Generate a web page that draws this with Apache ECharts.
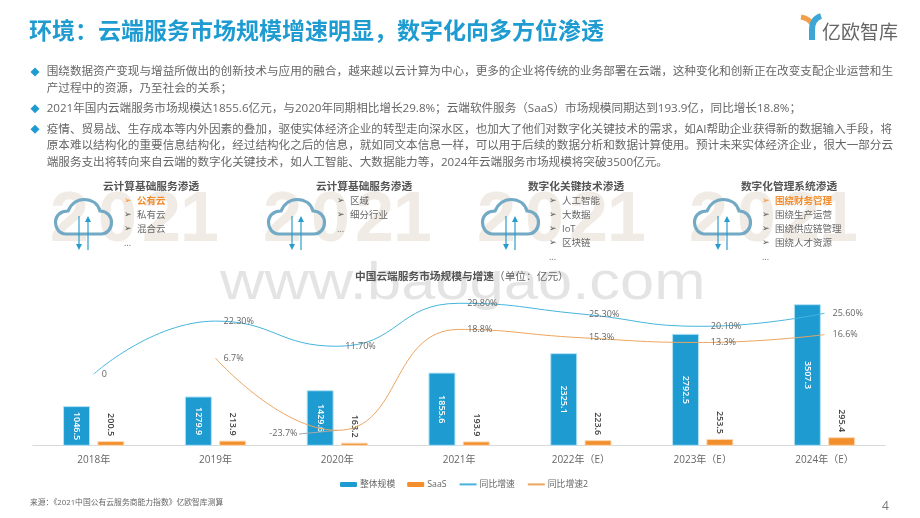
<!DOCTYPE html>
<html>
<head>
<meta charset="utf-8">
<style>
  html, body { margin: 0; padding: 0; background: #fff; }
  #main { width: 920px; height: 518px; }
</style>
</head>
<body>
<div id="main"></div>
<script src="https://cdn.jsdelivr.net/npm/echarts@6/dist/echarts.min.js"></script>
<script>
// chart data
var categories = ['2018年', '2019年', '2020年', '2021年', '2022年（E）', '2023年（E）', '2024年（E）'];
var totalSize = [1046.5, 1279.9, 1429.6, 1855.6, 2325.1, 2792.5, 3507.3];
var saasSize = [200.5, 213.9, 163.2, 193.9, 223.6, 253.5, 295.4];
var totalGrowth = [0, 22.3, 11.7, 29.8, 25.3, 20.1, 25.6];
var saasGrowth = [null, 6.7, -23.7, 18.8, 15.3, 13.3, 16.6];

// slide text
var pageTitle = '环境：云端服务市场规模增速明显，数字化向多方位渗透';
var bodyLines = [
  '围绕数据资产变现与增益所做出的创新技术与应用的融合，越来越以云计算为中心，更多的企业将传统的业务部署在云端，这种变化和创新正在改变支配企业运营和生',
  '产过程中的资源，乃至社会的关系；',
  '2021年国内云端服务市场规模达1855.6亿元，与2020年同期相比增长29.8%；云端软件服务（SaaS）市场规模同期达到193.9亿，同比增长18.8%；',
  '疫情、贸易战、生存成本等内外因素的叠加，驱使实体经济企业的转型走向深水区，也加大了他们对数字化关键技术的需求，如AI帮助企业获得新的数据输入手段，将',
  '原本难以结构化的重要信息结构化，经过结构化之后的信息，就如同文本信息一样，可以用于后续的数据分析和数据计算使用。预计未来实体经济企业，很大一部分云',
  '端服务支出将转向来自云端的数字化关键技术，如人工智能、大数据能力等，2024年云端服务市场规模将突破3500亿元。'
];
var panelTitles = ['云计算基础服务渗透', '云计算基础服务渗透', '数字化关键技术渗透', '数字化管理系统渗透'];
var panelItems = [
  ['公有云', '私有云', '混合云'],
  ['区域', '细分行业'],
  ['人工智能', '大数据', 'IoT', '区块链'],
  ['围绕财务管理', '围绕生产运营', '围绕供应链管理', '围绕人才资源']
];
var panelHighlight = [0, -1, -1, 0];
var backdropDigits = ['2', '0', '2', '1'];

var FONT = '"Open Sans", "Noto Sans CJK SC", sans-serif';
var CJK = '"Noto Sans CJK SC", sans-serif';
var BLUE = '#1e9bd1';
var ORANGE = '#f28e2b';
var GREY = '#666666';

// graphic has no plain path element, so register the svg shapes first
echarts.graphic.registerShape('cloud', echarts.graphic.extendPath(
  'M12 36 C5 36 1.5 30 1.5 24.5 C1.5 17 7 13 14 13 C17 6 23 1.5 30 1.5 C38 1.5 44 6 46 13 ' +
  'C53 13 57.5 18 57.5 24.5 C57.5 31 53 36 47 36 Z', {}));
echarts.graphic.registerShape('logoArm', echarts.graphic.extendPath('M801 17 C807 18 811 21 813 26', {}));
echarts.graphic.registerShape('logoStem', echarts.graphic.extendPath('M821 16 C815 18 812 23 812 30 L812 40', {}));

function label(text, x, y, opt) {
  opt = opt || {};
  return {
    type: 'text',
    z: opt.z == null ? 1 : opt.z,
    style: {
      text: text, x: x, y: y,
      fontFamily: opt.family || FONT,
      fontSize: opt.size || 10,
      fontWeight: opt.weight || 'normal',
      fill: opt.color || GREY,
      align: opt.align || 'left',
      verticalAlign: 'middle'
    }
  };
}

function buildSlide() {
  var els = [];
  els.push(label(pageTitle, 29, 30, { size: 23, weight: 'bold', color: BLUE, family: CJK }));

  // logo
  els.push({ type: 'logoArm', style: { fill: 'none', stroke: '#f0a04b', lineWidth: 5 } });
  els.push({ type: 'logoStem', style: { fill: 'none', stroke: '#3ea6d6', lineWidth: 6 } });
  els.push(label('亿欧智库', 822, 32, { size: 19, color: '#666666', family: CJK }));

  // body text
  var lineY = [72, 88.7, 108.7, 129.3, 146, 162.5];
  bodyLines.forEach(function (t, i) {
    els.push(label(t, 46.7, lineY[i], { size: 11.6 }));
  });
  [72, 108.7, 129.3].forEach(function (y) {
    els.push({ type: 'polygon', shape: { points: [[35, y - 4.5], [39.5, y], [35, y + 4.5], [30.5, y]] }, style: { fill: BLUE } });
  });

  // four panels
  var cloudX = [54, 267, 481, 693];
  var textX = [137, 350, 562, 775];
  var titleX = [151, 364, 576, 789];
  var digitOffset = [-4, 44, 88, 126];
  panelTitles.forEach(function (t, p) {
    var cx = cloudX[p];
    backdropDigits.forEach(function (d, i) {
      els.push(label(d, cx + digitOffset[i], 222, { size: 70, weight: 'bold', color: '#f1ebe5', family: '"Liberation Sans", sans-serif', z: 0 }));
    });
    els.push({ type: 'cloud', x: cx, y: 198, z: 1, style: { fill: 'none', stroke: '#72a9c4', lineWidth: 3.2 } });
    els.push({ type: 'line', z: 1, shape: { x1: cx + 25, y1: 216, x2: cx + 25, y2: 247 }, style: { stroke: '#2a9dce', lineWidth: 1.2 } });
    els.push({ type: 'polygon', z: 1, shape: { points: [[cx + 22, 244], [cx + 28, 244], [cx + 25, 250]] }, style: { fill: '#2a9dce' } });
    els.push({ type: 'line', z: 1, shape: { x1: cx + 34, y1: 219, x2: cx + 34, y2: 250 }, style: { stroke: '#2a9dce', lineWidth: 1.2 } });
    els.push({ type: 'polygon', z: 1, shape: { points: [[cx + 31, 222], [cx + 37, 222], [cx + 34, 216]] }, style: { fill: '#2a9dce' } });

    els.push(label(t, titleX[p], 186, { size: 10.7, weight: 'bold', color: '#555555', align: 'center', family: CJK, z: 2 }));
    var items = panelItems[p];
    items.forEach(function (item, i) {
      var on = panelHighlight[p] === i;
      var y = 201 + i * 14;
      els.push(label('➢', textX[p] - 13, y, { size: 9, color: on ? ORANGE : '#555555', family: '"DejaVu Sans", sans-serif', z: 2 }));
      els.push(label(item, textX[p], y, { size: 9.5, weight: on ? 'bold' : 'normal', color: on ? ORANGE : GREY, z: 2 }));
    });
    els.push(label('...', textX[p] - 13, 201 + items.length * 14, { size: 9, z: 2 }));
  });

  // watermark, squashed because the original face is wider than Liberation
  els.push({
    type: 'text', z: 3, scaleY: 0.85, originY: 258,
    style: { text: 'www.baogao.com', x: 220, y: 258, fontFamily: '"Liberation Sans", sans-serif', fontSize: 61.5, fill: 'rgba(190,190,190,0.42)', verticalAlign: 'alphabetic' }
  });

  // chart title, source, page number
  els.push({
    type: 'text', z: 4,
    style: {
      x: 355, y: 276, verticalAlign: 'middle',
      text: '{b|中国云端服务市场规模与增速}{n|（单位：亿元）}',
      rich: {
        b: { fontFamily: CJK, fontSize: 10.7, fontWeight: 'bold', fill: '#555555' },
        n: { fontFamily: CJK, fontSize: 10.7, fill: GREY }
      }
    }
  });
  els.push(label('来源：《2021中国公有云服务商能力指数》亿欧智库测算', 30, 503, { size: 7.8 }));
  els.push(label('4', 882, 507, { size: 12, color: '#777777' }));
  return els;
}

function pct(params) {
  return params.value === 0 ? '0' : params.value.toFixed(2) + '%';
}
function pct1(params) {
  return params.value.toFixed(1) + '%';
}

var myChart = echarts.init(document.getElementById('main'));
myChart.setOption({
  animation: false,
  textStyle: { fontFamily: FONT },
  graphic: { elements: buildSlide() },
  grid: { left: 32.8, width: 852.6, top: 283.8, height: 161.5 },
  legend: {
    left: 335, top: 475,
    itemWidth: 17, itemHeight: 5, itemGap: 12,
    textStyle: { fontSize: 8.8, color: GREY, fontFamily: FONT, padding: [0, 0, 0, -2] },
    data: [
      { name: '整体规模', itemStyle: { borderWidth: 0 } },
      { name: 'SaaS', itemStyle: { borderWidth: 0 } },
      { name: '同比增速', itemStyle: { opacity: 0 } },
      { name: '同比增速2', itemStyle: { opacity: 0 } }
    ]
  },
  xAxis: {
    type: 'category',
    data: categories,
    axisTick: { show: false },
    axisLine: { onZero: false, lineStyle: { color: '#d9d9d9', width: 1 } },
    axisLabel: { color: GREY, fontSize: 10, margin: 10, fontFamily: FONT }
  },
  yAxis: [
    { type: 'value', min: 100, max: 4000, show: false, splitLine: { show: false } },
    { type: 'value', min: -30, max: 38, show: false, splitLine: { show: false } }
  ],
  series: [
    {
      name: '整体规模', type: 'bar', data: totalSize,
      barWidth: 27, barGap: '27%',
      itemStyle: { color: BLUE, borderColor: '#b5e3f5', borderWidth: 1 },
      label: { show: true, position: 'inside', rotate: -90, color: '#fff', fontSize: 9, fontWeight: 600, align: 'center', verticalAlign: 'middle' }
    },
    {
      name: 'SaaS', type: 'bar', data: saasSize,
      barWidth: 27,
      itemStyle: { color: ORANGE, borderColor: '#fbd9b5', borderWidth: 1 },
      label: { show: true, position: 'top', distance: 5, rotate: -90, color: '#444', fontSize: 9, fontWeight: 600, align: 'right', verticalAlign: 'middle' }
    },
    {
      name: '同比增速', type: 'line', yAxisIndex: 1, data: totalGrowth,
      smooth: true, symbol: 'circle', symbolSize: 0.1, showSymbol: true, showAllSymbol: true, z: 5,
      lineStyle: { color: '#45b4dc', width: 1 }, itemStyle: { color: '#45b4dc' },
      label: { show: true, position: 'right', distance: 8, color: GREY, fontSize: 9, formatter: pct }
    },
    {
      name: '同比增速2', type: 'line', yAxisIndex: 1, data: saasGrowth,
      smooth: true, symbol: 'circle', symbolSize: 0.1, showSymbol: true, showAllSymbol: true, z: 5,
      lineStyle: { color: '#eba55f', width: 1 }, itemStyle: { color: '#eba55f' },
      label: { show: true, position: 'right', distance: 8, color: GREY, fontSize: 9, formatter: pct1 },
      // the negative point's label sits left of the bar, joined by a grey leader
      labelLayout: function (params) {
        return saasGrowth[params.dataIndex] < 0 ? { dx: -76, dy: 3 } : {};
      },
      markLine: {
        silent: true, symbol: 'none', animation: false,
        label: { show: false },
        lineStyle: { color: '#aaaaaa', width: 1, type: 'solid' },
        data: [[{ x: 299, y: 434 }, { xAxis: categories[2], yAxis: saasGrowth[2] }]]
      }
    }
  ]
});
</script>
</body>
</html>
